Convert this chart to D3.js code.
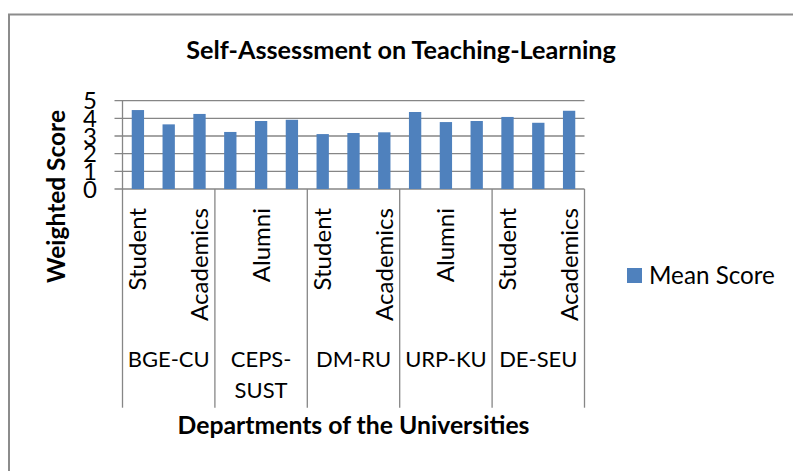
<!DOCTYPE html>
<html>
<head>
<meta charset="utf-8">
<script src="https://cdn.jsdelivr.net/npm/d3@7"></script>
<style>
  body { margin: 0; background: #fff; }
  svg { display: block; font-family: Lato, "Open Sans", sans-serif; }
</style>
</head>
<body>
<div id="container"></div>
<script>
// data
const groups = ["BGE-CU", "CEPS-SUST", "DM-RU", "URP-KU", "DE-SEU"];
const groupLines = [["BGE-CU"], ["CEPS-", "SUST"], ["DM-RU"], ["URP-KU"], ["DE-SEU"]];
const respondents = ["Student", "Alumni", "Academics"];
const meanScore = [4.47, 3.66, 4.25, 3.23, 3.85, 3.92, 3.11, 3.17, 3.21, 4.36, 3.79, 3.85, 4.08, 3.75, 4.43];
const yTicks = [0, 1, 2, 3, 4, 5];
const seriesName = "Mean Score";

const W = 793, H = 471;
const plot = { left: 122.5, right: 584.5, top: 100.7, bottom: 189 };
const axisBottom = 407.7;
const gridColor = "#868686";
const barColor = "#4f81bd";

const rows = [];
groups.forEach((g, gi) => respondents.forEach((r, ri) => {
    rows.push({ key: g + "|" + r, group: g, resp: r, value: meanScore[gi * respondents.length + ri] });
}));

const svg = d3.select('#container')
    .append('svg')
    .attr('width', W)
    .attr('height', H);

// chart frame (runs past the right and bottom edges of the picture)
svg.append('rect')
    .attr('x', 9).attr('y', 14.5)
    .attr('width', 900).attr('height', 600)
    .attr('fill', 'none')
    .attr('stroke', '#8c8c8c')
    .attr('stroke-width', 2);

// scale a text so it spans a measured width
function fitWidth(sel, target) {
    const w = sel.node().getComputedTextLength();
    const fs = parseFloat(sel.attr('font-size'));
    const size = fs * target / w;
    sel.attr('font-size', size);
    return size;
}

const xScale = d3.scaleBand()
    .domain(rows.map(d => d.key))
    .range([plot.left, plot.right])
    .paddingInner(0.6)
    .paddingOuter(0.3);

const yScale = d3.scaleLinear()
    .domain([0, 5])
    .range([plot.bottom, plot.top]);

// gridlines + y ticks
svg.append('g')
    .attr('class', 'grid')
    .selectAll('line')
    .data(yTicks)
    .enter()
    .append('line')
    .attr('x1', plot.left - 8)
    .attr('x2', plot.right)
    .attr('y1', d => yScale(d))
    .attr('y2', d => yScale(d))
    .attr('stroke', gridColor)
    .attr('stroke-width', 1.3);

const tickText = svg.append('g')
    .selectAll('text')
    .data(yTicks)
    .enter()
    .append('text')
    .attr('x', 97)
    .attr('y', d => yScale(d))
    .attr('dy', '0.36em')
    .attr('text-anchor', 'end')
    .attr('font-size', 24)
    .attr('fill', '#000')
    .text(d => d);

// bars
svg.append('g')
    .selectAll('rect')
    .data(rows)
    .enter()
    .append('rect')
    .attr('x', d => xScale(d.key))
    .attr('y', d => yScale(d.value))
    .attr('width', xScale.bandwidth())
    .attr('height', d => yScale(0) - yScale(d.value))
    .attr('fill', barColor);

// y axis line
svg.append('line')
    .attr('x1', plot.left).attr('x2', plot.left)
    .attr('y1', plot.top).attr('y2', plot.bottom)
    .attr('stroke', gridColor)
    .attr('stroke-width', 1.3);

// group separators of the two-level category axis
const groupW = (plot.right - plot.left) / groups.length;
svg.append('g')
    .selectAll('line')
    .data(d3.range(groups.length + 1))
    .enter()
    .append('line')
    .attr('x1', i => plot.left + i * groupW)
    .attr('x2', i => plot.left + i * groupW)
    .attr('y1', plot.bottom)
    .attr('y2', axisBottom)
    .attr('stroke', gridColor)
    .attr('stroke-width', 1.3);

// respondent labels (every second one, as in the reference)
const catG = svg.append('g');
const catLabels = catG.selectAll('text')
    .data(rows.filter((d, i) => i % 2 === 0))
    .enter()
    .append('text')
    .attr('transform', d => `translate(${xScale(d.key) + xScale.bandwidth() / 2},208) rotate(-90)`)
    .attr('dy', '0.35em')
    .attr('text-anchor', 'end')
    .attr('font-size', 24)
    .attr('fill', '#000')
    .text(d => d.resp);
const catSize = fitWidth(catLabels.filter(d => d.resp === 'Academics').filter((d, i) => i === 0), 113);
catLabels.attr('font-size', catSize);

// department labels
const grpText = svg.append('g')
    .selectAll('text')
    .data(groups)
    .enter()
    .append('text')
    .attr('x', (d, i) => plot.left + (i + 0.5) * groupW)
    .attr('y', 366.5)
    .attr('text-anchor', 'middle')
    .attr('font-size', 24)
    .attr('fill', '#000');
grpText.selectAll('tspan')
    .data((d, i) => groupLines[i])
    .enter()
    .append('tspan')
    .attr('x', function () { return this.parentNode.getAttribute('x'); })
    .attr('dy', (d, i) => i === 0 ? 0 : 31.5)
    .text(d => d);
const grpSize = fitWidth(grpText.filter((d, i) => i === 0), 82);
grpText.attr('font-size', grpSize);

// title
const title = svg.append('text')
    .attr('x', 401)
    .attr('y', 59)
    .attr('text-anchor', 'middle')
    .attr('font-weight', 'bold')
    .attr('font-size', 20)
    .attr('fill', '#000')
    .text('Self-Assessment on Teaching-Learning');
fitWidth(title, 430);

// axis titles
const xTitle = svg.append('text')
    .attr('x', (plot.left + plot.right) / 2)
    .attr('y', 433.5)
    .attr('text-anchor', 'middle')
    .attr('font-weight', 'bold')
    .attr('font-size', 20)
    .attr('fill', '#000')
    .text('Departments of the Universities');
fitWidth(xTitle, 352);

const yTitle = svg.append('text')
    .attr('transform', 'translate(65,196.5) rotate(-90)')
    .attr('text-anchor', 'middle')
    .attr('font-weight', 'bold')
    .attr('font-size', 20)
    .attr('fill', '#000')
    .text('Weighted Score');
fitWidth(yTitle, 173);

// legend
const legend = svg.append('g').attr('transform', 'translate(627,268)');
legend.append('rect')
    .attr('width', 15)
    .attr('height', 15)
    .attr('fill', barColor);
const legText = legend.append('text')
    .attr('x', 22)
    .attr('y', 7.5)
    .attr('dy', '0.35em')
    .attr('font-size', 24)
    .attr('fill', '#000')
    .text(seriesName);
fitWidth(legText, 126);
</script>
</body>
</html>
